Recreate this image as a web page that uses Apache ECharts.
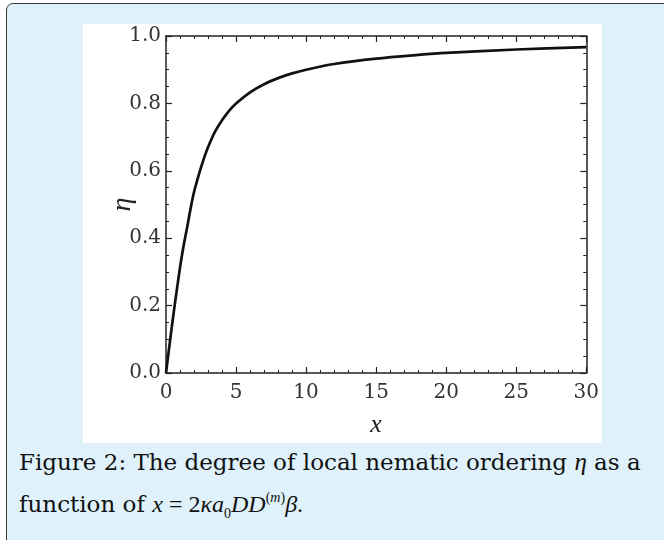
<!DOCTYPE html>
<html>
<head>
<meta charset="utf-8">
<script src="https://cdn.jsdelivr.net/npm/echarts@6/dist/echarts.min.js"></script>
<style>
  html, body { margin: 0; padding: 0; background: #ffffff; width: 664px; height: 540px; overflow: hidden; }
  #box { position: absolute; left: 6px; top: 3px; width: 690px; height: 570px; box-sizing: border-box;
         border: 1.5px solid #3a3a3a; border-radius: 7px; background: #dff1fb; }
  #panel { position: absolute; left: 83px; top: 24px; width: 519px; height: 419px; background: #ffffff; }
  #chart { position: absolute; left: 0; top: 0; width: 519px; height: 419px; }
  .cap { position: absolute; left: 19px; font-family: "DejaVu Serif", serif; font-size: 23px; color: #111; white-space: nowrap; }
  #cap1 { top: 448px; }
  #cap2 { top: 490px; }
  .m { font-style: italic; font-family: "Liberation Serif", serif; font-size: 24px; }
  .r { font-family: "Liberation Serif", serif; font-size: 24px; }
  sub, sup { font-size: 14px; font-family: "Liberation Serif", serif; }
  sub { vertical-align: -6px; }
  sup { vertical-align: 10px; }
</style>
</head>
<body>
<div id="box"></div>
<div id="panel"><div id="chart"></div></div>
<div class="cap" id="cap1">Figure 2: The degree of local nematic ordering <span class="m" style="font-size:25px">η</span> as a</div>
<div class="cap" id="cap2">function of <span class="m">x</span><span class="r"> = 2</span><span class="m">κa</span><sub>0</sub><span class="m">DD</span><sup>(<i>m</i>)</sup><span class="m">β</span><span class="r">.</span></div>
<script>
// Data
const xValues = [0, 0.25, 0.5, 0.75, 1, 1.25, 1.5, 1.75, 2, 2.25, 2.5, 2.75, 3, 3.5, 4, 4.5, 5, 6, 7, 8, 9, 10, 12, 15, 18, 20, 25, 30];
const etaValues = [0, 0.083, 0.164, 0.24, 0.313, 0.376, 0.43, 0.487, 0.537, 0.575, 0.61, 0.642, 0.67, 0.716, 0.75, 0.778, 0.80, 0.833, 0.857, 0.875, 0.889, 0.90, 0.917, 0.933, 0.944, 0.95, 0.96, 0.967];
const xTicks = [0, 5, 10, 15, 20, 25, 30];
const yTicks = [0.0, 0.2, 0.4, 0.6, 0.8, 1.0];

const labelFont = { fontFamily: "DejaVu Serif", fontSize: 20, color: '#333' };
const axisLine = { show: true, onZero: false, lineStyle: { color: '#222', width: 1.5 } };

function xAxisDef(pos, showLabel) {
  return {
    type: 'value', position: pos, min: xTicks[0], max: xTicks[xTicks.length - 1], interval: 5,
    axisLine: axisLine,
    axisTick: { show: true, inside: true, length: 6, lineStyle: { color: '#222', width: 1.2 } },
    minorTick: { show: true, splitNumber: 5, length: 3, lineStyle: { color: '#222', width: 1 } },
    splitLine: { show: false },
    axisLabel: Object.assign({ show: showLabel, margin: 10 }, labelFont),
    name: showLabel ? 'x' : '', nameLocation: 'middle', nameGap: 39, nameMoveOverlap: false,
    nameTextStyle: { fontFamily: "Liberation Serif", fontStyle: 'italic', fontSize: 26, color: '#222' }
  };
}
function yAxisDef(pos, showLabel) {
  return {
    type: 'value', position: pos, min: yTicks[0], max: yTicks[yTicks.length - 1], interval: 0.2,
    axisLine: axisLine,
    axisTick: { show: true, inside: true, length: 6, lineStyle: { color: '#222', width: 1.2 } },
    minorTick: { show: true, splitNumber: 4, length: 3, lineStyle: { color: '#222', width: 1 } },
    splitLine: { show: false },
    axisLabel: Object.assign({ show: showLabel, margin: 5, formatter: v => v.toFixed(1) }, labelFont),
    name: showLabel ? 'η' : '', nameLocation: 'middle', nameGap: 29, nameRotate: 90, nameMoveOverlap: false,
    nameTextStyle: { fontFamily: "Liberation Serif", fontStyle: 'italic', fontSize: 28, color: '#222' }
  };
}

const chart = echarts.init(document.getElementById('chart'), null, { renderer: 'canvas' });
chart.setOption({
  animation: false,
  backgroundColor: '#ffffff',
  grid: { left: 83, top: 12, width: 422, height: 341, containLabel: false },
  xAxis: [xAxisDef('bottom', true), xAxisDef('top', false)],
  yAxis: [yAxisDef('left', true), yAxisDef('right', false)],
  series: [{
    type: 'line', xAxisIndex: 0, yAxisIndex: 0,
    data: xValues.map((x, i) => [x, etaValues[i]]),
    smooth: 0.3, showSymbol: false,
    lineStyle: { color: '#111', width: 2.7 }
  }]
});
</script>
</body>
</html>
